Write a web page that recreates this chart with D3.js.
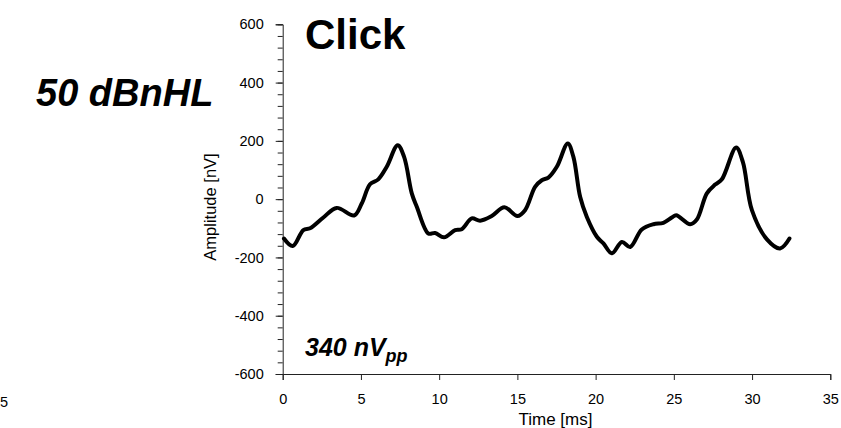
<!DOCTYPE html>
<html>
<head>
<meta charset="utf-8">
<script src="https://cdn.jsdelivr.net/npm/d3@7"></script>
<style>
  html, body { margin: 0; padding: 0; background: #fff; }
  svg { display: block; }
  text { font-family: Arial, "Liberation Sans", sans-serif; fill: #000; }
</style>
</head>
<body>
<svg id="chart" width="841" height="428"></svg>
<script>
// Averaged evoked response to a click stimulus (three sweeps in one window)
const timeMs = [0.08, 0.64, 1.32, 1.75, 2.60, 3.45, 4.56, 5.05, 5.58, 6.11, 6.65, 7.35, 7.76, 8.25, 8.57,
  9.31, 9.74, 10.31, 11.02, 11.44, 12.08, 12.62, 13.36, 14.17, 15.00, 15.49, 16.13, 16.56, 16.98,
  17.52, 18.22, 18.58, 19.01, 19.44, 20.08, 20.50, 21.04, 21.68, 22.21, 22.95, 23.70, 24.33, 24.87,
  25.15, 26.04, 26.47, 27.11, 27.64, 28.07, 28.98, 29.41, 29.99, 30.95, 31.79, 32.39];
const amplitudeNv = [-135, -161, -106, -100, -63, -30, -56, -15, 51, 68, 111, 185, 145, 20, -26,
  -118, -116, -131, -106, -103, -66, -74, -58, -28, -58, -38, 42, 65, 74,
  111, 191, 145, 8, -61, -129, -152, -186, -147, -164, -104, -86, -81, -63,
  -55, -86, -70, 20, 50, 68, 177, 128, -38, -138, -169, -135];

const xTicks = [0, 5, 10, 15, 20, 25, 30, 35];
const yTicks = [-600, -400, -200, 0, 200, 400, 600];
const yMinorTicks = d3.range(-600, 601, 40);

const titleText = "Click";
const levelText = "50 dBnHL";
const ppValue = "340 nV";
const ppSub = "pp";

const svg = d3.select("#chart");

const x = d3.scaleLinear().domain([0, 35]).range([282.7, 830.3]);
const y = d3.scaleLinear().domain([-600, 600]).range([374, 24.3]);

// plain hyphen for negative tick values
const plain = d => String(d);

// y axis: minor ticks then labelled major ticks
const yMinor = svg.append("g").attr("transform", `translate(${x(0)},0)`)
  .call(d3.axisLeft(y).tickValues(yMinorTicks).tickSize(5).tickFormat(""));
const yMajor = svg.append("g").attr("transform", `translate(${x(0)},0)`)
  .call(d3.axisLeft(y).tickValues(yTicks).tickSize(7).tickPadding(12).tickFormat(plain));

// x axis
const xAxis = svg.append("g").attr("transform", `translate(0,${y(-600)})`)
  .call(d3.axisBottom(x).tickValues(xTicks).tickSize(6).tickPadding(14).tickFormat(plain));

svg.selectAll(".domain").attr("stroke", "#222").attr("stroke-width", 1);
svg.selectAll(".tick line").attr("stroke", "#222").attr("stroke-width", 1);
svg.selectAll(".tick text").style("font-size", "14.5px").attr("fill", "#000");
yMinor.select(".domain").remove();

// axis titles
svg.append("text")
  .attr("x", (x(0) + x(35)) / 2 - 1)
  .attr("y", 425)
  .attr("text-anchor", "middle")
  .style("font-size", "17px")
  .text("Time [ms]");

svg.append("text")
  .attr("transform", "translate(216,207) rotate(-90)")
  .attr("text-anchor", "middle")
  .style("font-size", "16.5px")
  .text("Amplitude [nV]");

// trailing digit of a neighbouring panel's tick label
svg.append("text")
  .attr("x", 0)
  .attr("y", 407)
  .attr("text-anchor", "start")
  .style("font-size", "14.5px")
  .text("5");

// waveform
const line = d3.line()
  .x((d, i) => x(timeMs[i]))
  .y(d => y(d))
  .curve(d3.curveCatmullRom.alpha(0.5));

svg.append("path")
  .datum(amplitudeNv)
  .attr("d", line)
  .attr("fill", "none")
  .attr("stroke", "#000")
  .attr("stroke-width", 4)
  .attr("stroke-linejoin", "round")
  .attr("stroke-linecap", "round");

// annotations
svg.append("text")
  .attr("x", 305)
  .attr("y", 49)
  .style("font-size", "42px")
  .style("font-weight", "bold")
  .text(titleText);

svg.append("text")
  .attr("x", 36)
  .attr("y", 106)
  .style("font-size", "38px")
  .style("font-weight", "bold")
  .style("font-style", "italic")
  .text(levelText);

const pp = svg.append("text")
  .attr("x", 305)
  .attr("y", 356)
  .style("font-size", "25px")
  .style("font-weight", "bold")
  .style("font-style", "italic");
pp.append("tspan").text(ppValue);
pp.append("tspan").attr("dy", 6).style("font-size", "18px").text(ppSub);
</script>
</body>
</html>
